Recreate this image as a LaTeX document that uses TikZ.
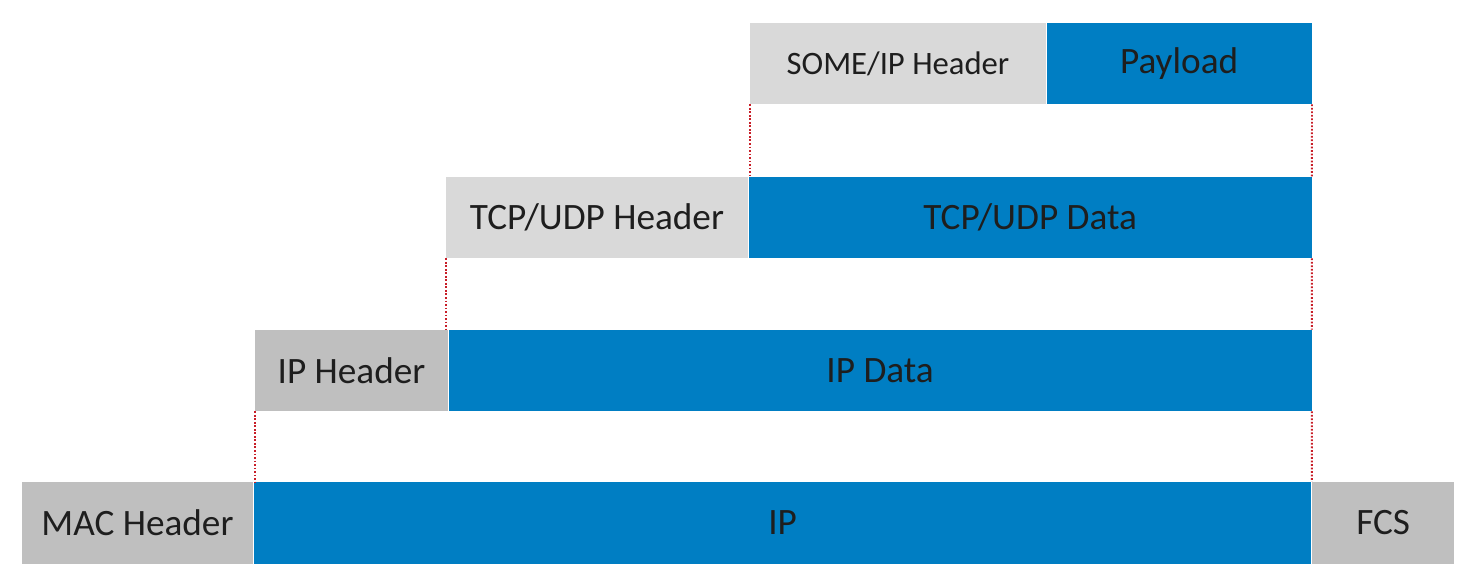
\documentclass[tikz,border=0pt]{standalone}
\usepackage{fontspec}
\setmainfont{Carlito}
\usepackage{tikz}
\usetikzlibrary{positioning}

\definecolor{lgray}{RGB}{217,217,217}
\definecolor{mgray}{RGB}{191,191,191}
\definecolor{pblue}{RGB}{0,126,195}
\definecolor{txt}{RGB}{30,30,30}
\definecolor{dred}{RGB}{200,30,40}

\begin{document}
\begin{tikzpicture}[x=0.02cm,y=-0.02cm]
            \useasboundingbox (0,0) rectangle (1474,579);
            \begin{scope}[shape=rectangle,inner sep=0pt]
            \tikzstyle{every node}=[text=txt,minimum height=1.62cm,font=\fontsize{21.2}{25}\selectfont]
            \tikzstyle{seam}=[dred,line width=1.1pt,dash pattern=on 1pt off 1pt]

            \node[fill=lgray,minimum width=5.92cm,font=\fontsize{18.6}{22}\selectfont] (someh) at (898,63.5) {SOME/IP Header};
            \node[fill=pblue,minimum width=5.3cm,right=0pt of someh] (payload) {Payload};

            \node[fill=lgray,minimum width=6.04cm] (tcph) at (597,217.5) {TCP/UDP Header};
            \node[fill=pblue,minimum width=11.26cm,right=0pt of tcph] (tcpd) {TCP/UDP Data};

            \node[fill=mgray,minimum width=3.86cm] (iph) at (351.5,370.5) {IP Header};
            \node[fill=pblue,minimum width=17.26cm,right=0pt of iph] (ipd) {IP Data};

            \node[fill=mgray,minimum width=4.62cm,minimum height=1.64cm] (mach) at (137.5,523) {MAC Header};
            \node[fill=pblue,minimum width=21.16cm,minimum height=1.64cm,right=0pt of mach] (ip) {IP};
            \node[fill=mgray,minimum width=2.84cm,minimum height=1.64cm,right=0pt of ip] (fcs) {FCS};

            \draw [seam] (someh.south west) -- (someh.south west |- tcpd.north);
            \draw [seam] (payload.south east) -- (tcpd.north east);
            \draw [seam] (tcph.south west) -- (tcph.south west |- ipd.north);
            \draw [seam] (tcpd.south east) -- (ipd.north east);
            \draw [seam] (iph.south west) -- (iph.south west |- ip.north);
            \draw [seam] (ipd.south east) -- (ip.north east);

            \end{scope}
\end{tikzpicture}
\end{document}
